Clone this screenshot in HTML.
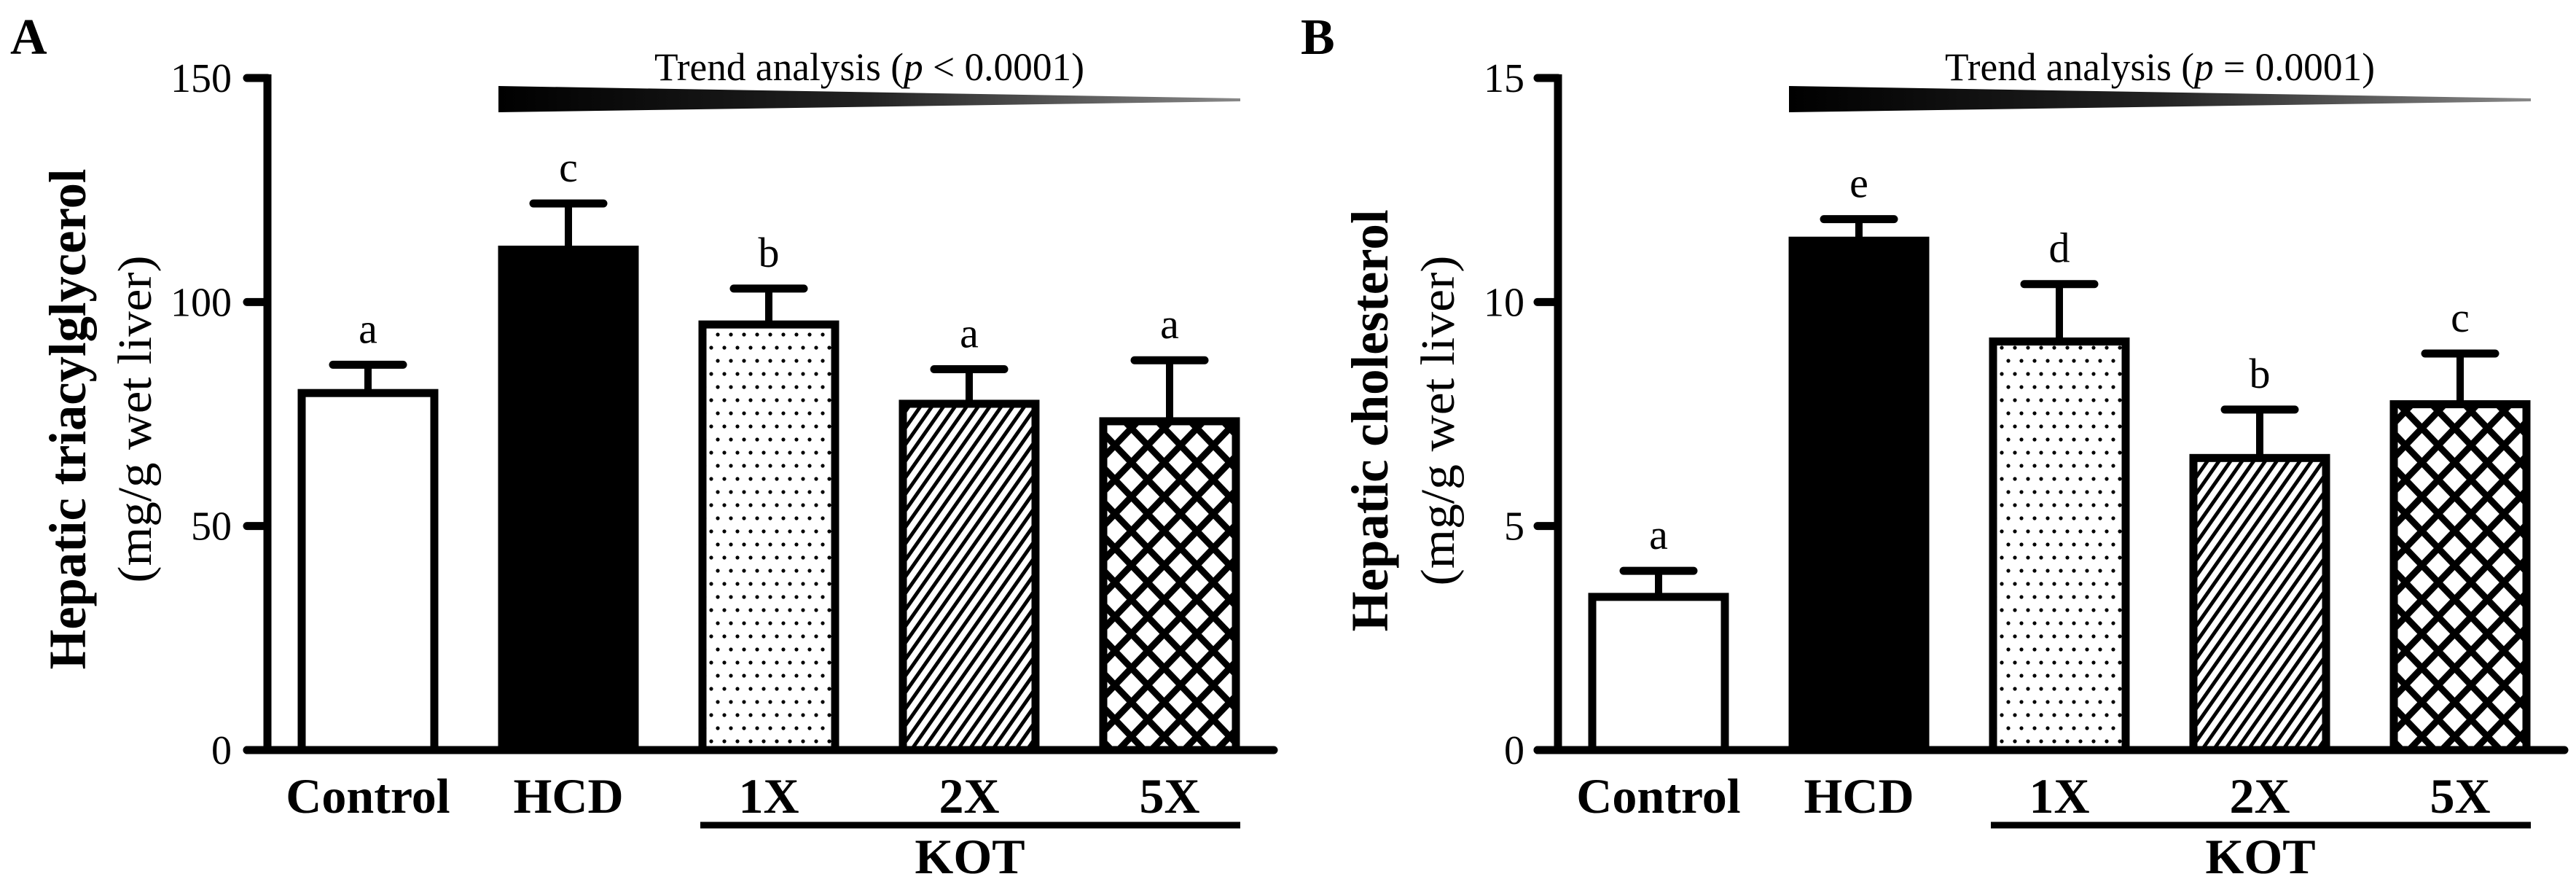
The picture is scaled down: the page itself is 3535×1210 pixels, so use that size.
<!DOCTYPE html>
<html><head><meta charset="utf-8"><style>
html,body{margin:0;padding:0;background:#fff;}
svg{display:block;}
text{font-family:"Liberation Serif",serif;fill:#000;}
</style></head><body>
<svg id="chart" width="3535" height="1210" viewBox="0 0 3535 1210" xmlns="http://www.w3.org/2000/svg">
<defs>
<pattern id="pDots" patternUnits="userSpaceOnUse" width="18" height="36">
<rect width="18" height="36" fill="#fff"/>
<circle cx="4" cy="9" r="2.6" fill="#000"/><circle cx="13" cy="27" r="2.6" fill="#000"/>
</pattern>
<pattern id="pDiag" patternUnits="userSpaceOnUse" width="13" height="13" patternTransform="rotate(35)">
<rect width="13" height="13" fill="#fff"/><rect x="0" y="0" width="5" height="13" fill="#000"/>
</pattern>
<pattern id="pCross" patternUnits="userSpaceOnUse" width="45" height="47">
<rect width="45" height="47" fill="#fff"/>
<path d="M-2,-2 L47,49 M47,-2 L-2,49" stroke="#000" stroke-width="9"/>
</pattern>
<linearGradient id="gTrend" x1="0" x2="1" y1="0" y2="0">
<stop offset="0" stop-color="#000"/><stop offset="0.5" stop-color="#222"/><stop offset="1" stop-color="#888"/>
</linearGradient>
</defs>
</svg>
<script>
const categories = ["Control","HCD","1X","2X","5X"];
const valuesA = [80.5, 112.5, 95.8, 78.1, 74.2];
const errA = [5.5, 9.5, 7.2, 6.9, 12.8];
const lettersA = ["a","c","b","a","a"];
const ticksA = [0,50,100,150];
const valuesB = [3.5, 11.45, 9.2, 6.6, 7.8];
const errB = [0.5, 0.4, 1.2, 1.0, 1.05];
const lettersB = ["a","e","d","b","c"];
const ticksB = [0,5,10,15];

const NS = "http://www.w3.org/2000/svg";
const svg = document.getElementById("chart");
const fills = ["#fff","#000","url(#pDots)","url(#pDiag)","url(#pCross)"];
function mk(tag, attrs, parent, txt){
  const e = document.createElementNS(NS, tag);
  for (const k in attrs) e.setAttribute(k, attrs[k]);
  if (txt !== undefined) e.textContent = txt;
  (parent||svg).appendChild(e);
  return e;
}
function panel(cfg){
  const g = mk("g", {transform:"translate("+cfg.dx+",0)"});
  
  
  const axisX = 367, y0 = 1029, yTop = 107, xEnd = 1748;
  const yScale = v => y0 - (v / cfg.max) * (y0 - yTop);
  const xScale = i => 409 + i * 275;
  const bw = 192;
  // panel letter
  const pl = mk("text", {x:14, y:74, "font-size":70, "font-weight":"bold"}, g, cfg.letter);
  
  
  // y title
  const t1 = mk("text", {x:0, y:0, "font-size":72, "font-weight":"bold", "text-anchor":"middle", transform:"translate("+(cfg.t1x+24)+","+cfg.tcy+") rotate(-90)", textLength:cfg.t1len, lengthAdjust:"spacingAndGlyphs"}, g, cfg.title);
  
  
  const t2 = mk("text", {x:0, y:0, "font-size":66, "text-anchor":"middle", transform:"translate("+(cfg.t2x+22)+","+cfg.tcy+") rotate(-90)", textLength:cfg.t2len, lengthAdjust:"spacingAndGlyphs"}, g, "(mg/g wet liver)");
  
  
  // bars
  cfg.values.forEach((v,i) => {
    const x = xScale(i), y = yScale(v), ye = yScale(v + cfg.err[i]), cx = x + bw/2;
    const eb = mk("line", {x1:cx, x2:cx, y1:y, y2:ye, stroke:"#000", "stroke-width":10}, g);
    
    
    const cap = mk("line", {x1:cx-48, x2:cx+48, y1:ye, y2:ye, stroke:"#000", "stroke-width":11, "stroke-linecap":"round"}, g);
    
    
    const r = mk("rect", {x:x+5, y:y+5, width:bw-10, height:y0-y-5, fill:fills[i], stroke:"#000", "stroke-width":11}, g);
    
    
    const lt = mk("text", {x:cx, y:ye-30, "font-size":58, "text-anchor":"middle"}, g, cfg.letters[i]);
    
    
    const xl = mk("text", {x:cx, y:1115, "font-size":68, "font-weight":"bold", "text-anchor":"middle"}, g, categories[i]);
    
    
  });
  // axes
  const ya = mk("line", {x1:axisX, x2:axisX, y1:yTop-5, y2:y0+5, stroke:"#000", "stroke-width":11}, g);
  
  
  const xa = mk("line", {x1:axisX-28, x2:xEnd, y1:y0, y2:y0, stroke:"#000", "stroke-width":11, "stroke-linecap":"round"}, g);
  
  
  cfg.ticks.forEach(t => {
    const y = yScale(t);
    const tk = mk("line", {x1:axisX-28, x2:axisX, y1:y, y2:y, stroke:"#000", "stroke-width":11, "stroke-linecap":"round"}, g);
    
    
    const tl = mk("text", {x:cfg.tickRight, y:y+19, "font-size":56, "text-anchor":"end"}, g, String(t));
    
    
  });
  // KOT bracket
  const kl = mk("line", {x1:961, x2:1702, y1:1132, y2:1132, stroke:"#000", "stroke-width":9}, g);
  
  
  const kt = mk("text", {x:1331, y:1198, "font-size":68, "font-weight":"bold", "text-anchor":"middle"}, g, "KOT");
  
  
  // trend wedge
  const w = mk("path", {d:"M684,118 L1702,135 L1702,139 L684,154 Z", fill:"url(#gTrend)"}, g);
  
  
  const tt = mk("text", {x:1193, y:110, "font-size":54, "text-anchor":"middle", textLength:590, lengthAdjust:"spacingAndGlyphs"}, g);
  
  
  mk("tspan", {}, tt, "Trend analysis (");
  mk("tspan", {"font-style":"italic"}, tt, "p");
  mk("tspan", {}, tt, cfg.pText);
}
panel({dx:0, name:"panel-a", letter:"A", max:150, values:valuesA, err:errA, letters:lettersA, ticks:ticksA,
  title:"Hepatic triacylglycerol", t1x:93, t2x:185, tcy:575, t1len:687, t2len:449, tickRight:318, pText:" < 0.0001)"});
panel({dx:1771, name:"panel-b", letter:"B", max:15, values:valuesB, err:errB, letters:lettersB, ticks:ticksB,
  title:"Hepatic cholesterol", t1x:1880-1771, t2x:1973-1771, tcy:577, t1len:579, t2len:453, tickRight:321, pText:" = 0.0001)"});
</script>
</body></html>
